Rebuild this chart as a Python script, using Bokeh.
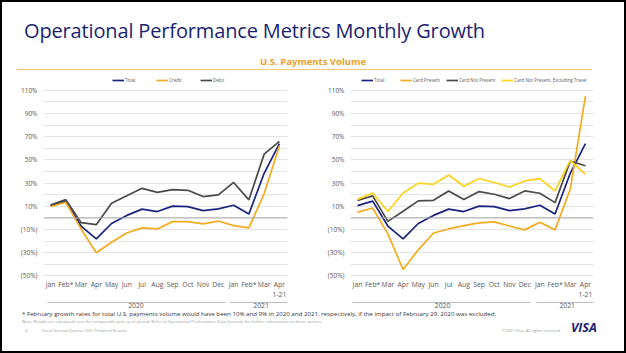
from bokeh.plotting import figure
from bokeh.models import (FixedTicker, LinearAxis, Legend, LegendItem, Span, Div,
                          Range1d, ColumnDataSource)
from bokeh.layouts import column, row
from bokeh.embed import file_html
from bokeh.resources import INLINE

# ---------------- data ----------------
month_labels = ["Jan", "Feb*", "Mar", "Apr", "May", "Jun", "Jul", "Aug", "Sep", "Oct",
                "Nov", "Dec", "Jan", "Feb*", "Mar", "Apr\n1-21"]
month_idx = list(range(len(month_labels)))
year_labels = ["2020", "2021"]
year_pos = [5.6, 13.8]

y_tick_values = [-50, -30, -10, 10, 30, 50, 70, 90, 110]
y_tick_labels = ["(50%)", "(30%)", "(10%)", "10%", "30%", "50%", "70%", "90%", "110%"]
y_grid_values = [-50, -40, -30, -20, -10, 0, 10, 20, 30, 40, 50, 60, 70, 80, 90, 100, 110]

# left chart
total = [10.6, 14.5, -7.0, -18.0, -4.8, 2.2, 7.6, 5.5, 10.2, 9.8, 6.3, 7.8, 10.9, 3.4, 38.5, 64.0]
credit = [9.7, 13.5, -9.5, -30.0, -21.0, -13.0, -8.6, -9.5, -3.2, -3.2, -5.2, -2.7, -6.6, -8.6, 21.0, 62.0]
debit = [11.2, 15.8, -4.0, -5.8, 12.6, 19.2, 25.5, 22.0, 24.4, 23.8, 18.4, 19.9, 30.6, 15.6, 55.0, 66.0]

# right chart
card_present = [5.0, 8.6, -13.8, -44.5, -27.5, -13.0, -9.5, -6.6, -4.3, -3.4, -7.0, -10.3, -3.8, -10.3, 24.7, 105.0]
card_not_present = [15.0, 19.0, -3.0, 5.7, 14.7, 15.2, 23.3, 15.8, 22.7, 20.4, 16.7, 23.3, 21.3, 13.2, 49.0, 45.0]
cnp_ex_travel = [16.0, 21.5, 5.5, 21.5, 30.0, 29.0, 37.0, 27.3, 34.0, 30.5, 26.7, 31.9, 33.9, 23.3, 49.7, 37.6]

NAVY = "#1a237e"
GOLD = "#f2ac1d"
GREY = "#4a4a4a"
YELLOW = "#fcd21c"
FONT = "Open Sans"
LABEL_COLOR = "#595959"

FIG_H = 239
TOP = 3
BOTTOM = 35
FRAME_H = FIG_H - TOP - BOTTOM


def style_axis(ax, size, standoff):
    ax.axis_line_color = None
    ax.major_tick_line_color = None
    ax.minor_tick_line_color = None
    ax.major_tick_out = 0
    ax.major_tick_in = 0
    ax.minor_tick_out = 0
    ax.minor_tick_in = 0
    ax.major_label_text_font = FONT
    ax.major_label_text_font_size = size
    ax.major_label_text_color = LABEL_COLOR
    ax.major_label_standoff = standoff


def make_chart(series, width, mb_left, mb_right, legend_x, spacing, year_bounds, year_dash):
    p = figure(width=width, height=FIG_H, output_backend="svg", toolbar_location=None,
               x_range=Range1d(-0.46, 15.53), y_range=Range1d(-50.5, 122.8),
               min_border_left=mb_left, min_border_right=mb_right,
               min_border_top=TOP, min_border_bottom=BOTTOM)
    p.outline_line_color = None
    p.background_fill_color = "white"
    p.border_fill_color = "white"

    # y axis
    p.yaxis.ticker = FixedTicker(ticks=y_tick_values)
    p.yaxis.major_label_overrides = dict(zip(y_tick_values, y_tick_labels))
    style_axis(p.yaxis[0], "6.5px", 6)
    p.ygrid.ticker = FixedTicker(ticks=y_grid_values)
    p.ygrid.grid_line_color = "#e4e4e4"
    p.ygrid.grid_line_width = 1
    p.xgrid.grid_line_color = None

    # month axis
    p.xaxis.ticker = FixedTicker(ticks=month_idx)
    p.xaxis.major_label_overrides = dict(zip(month_idx, month_labels))
    style_axis(p.xaxis[0], "6.8px", 3)

    # year axis
    yax = LinearAxis(ticker=FixedTicker(ticks=year_pos),
                     major_label_overrides=dict(zip(year_pos, year_labels)),
                     bounds=year_bounds)
    style_axis(yax, "6.8px", 0)
    yax.axis_line_color = "#bdbdbd"
    yax.axis_line_width = 1
    yax.axis_line_dash = year_dash
    p.add_layout(yax, "below")

    p.add_layout(Span(location=0, dimension="width", line_color="#a8a8a8", line_width=1))

    items = []
    for label, vals, color in series:
        src = ColumnDataSource(dict(x=month_idx, y=vals))
        r = p.line("x", "y", source=src, line_color=color, line_width=1.7)
        items.append(LegendItem(label=label, renderers=[r]))

    leg = Legend(items=items, orientation="horizontal", location=(legend_x, FRAME_H - 7.5),
                 label_text_font=FONT, label_text_font_size="4.5px", label_text_color="#595959",
                 glyph_width=12, glyph_height=6, label_height=6, label_standoff=1,
                 spacing=spacing, padding=0, margin=0,
                 border_line_color=None, background_fill_alpha=0)
    p.add_layout(leg, "center")
    return p


left = make_chart([("Total", total, NAVY), ("Credit", credit, GOLD), ("Debit", debit, GREY)],
                  311, 41, 26, 69, 11, (-0.2, 15.53), "178 4 200")
right = make_chart([("Total", total, NAVY), ("Card Present", card_present, GOLD),
                    ("Card Not Present", card_not_present, GREY),
                    ("Card Not Present, Excluding Travel", cnp_ex_travel, YELLOW)],
                   311, 37, 31, 11, 6, (-0.33, 15.53), "178 6 200")

header_html = f"""
<div style="position:relative;width:622px;height:70px;font-family:'{FONT}';">
  <div style="position:absolute;left:22px;top:19px;font-size:20px;line-height:20px;color:#1a1f71;white-space:nowrap;letter-spacing:-0.15px;">Operational Performance Metrics Monthly Growth</div>
  <div style="position:absolute;left:0;top:55px;width:622px;text-align:center;font-size:9.5px;line-height:10px;font-weight:bold;color:#ee9e22;">U.S. Payments Volume</div>
  <div style="position:absolute;left:15px;top:67px;width:575px;height:1px;background:#f5c57a;"></div>
</div>
"""
header = Div(text=header_html, width=622, height=70, margin=0)

footer_html = f"""
<div style="position:relative;width:622px;height:40px;font-family:'{FONT}';white-space:nowrap;">
  <div style="position:absolute;left:20px;top:-1px;font-size:6.15px;line-height:8px;color:#333333;">* February growth rates for total U.S. payments volume would have been 10% and 9% in 2020 and 2021, respectively, if the impact of February 29, 2020 was excluded.</div>
  <div style="position:absolute;left:20px;top:8px;font-size:4.1px;line-height:5px;color:#9a9a9a;">Note: Results are calculated over the comparable prior-year period. Refer to Operational Performance Data footnote for further information on these metrics.</div>
  <div style="position:absolute;left:23px;top:17px;font-size:4.1px;line-height:5px;color:#9a9a9a;">4</div>
  <div style="position:absolute;left:40px;top:17px;font-size:4.1px;line-height:5px;color:#9a9a9a;">Fiscal Second Quarter 2021 Financial Results</div>
  <div style="position:absolute;left:500px;top:17px;font-size:4.1px;line-height:5px;color:#9a9a9a;">&copy;2021 Visa. All rights reserved.</div>
  <div style="position:absolute;left:569px;top:10px;font-size:12.5px;line-height:14px;font-weight:bold;font-style:italic;color:#1a1f71;">VISA</div>
</div>
"""
footer = Div(text=footer_html, width=622, height=40, margin=0)

layout = column(header, row(left, right), footer, width=626, height=353,
                styles={"border": "2px solid #000000", "box-sizing": "border-box"})

open("out.html", "w").write(file_html(layout, INLINE))
